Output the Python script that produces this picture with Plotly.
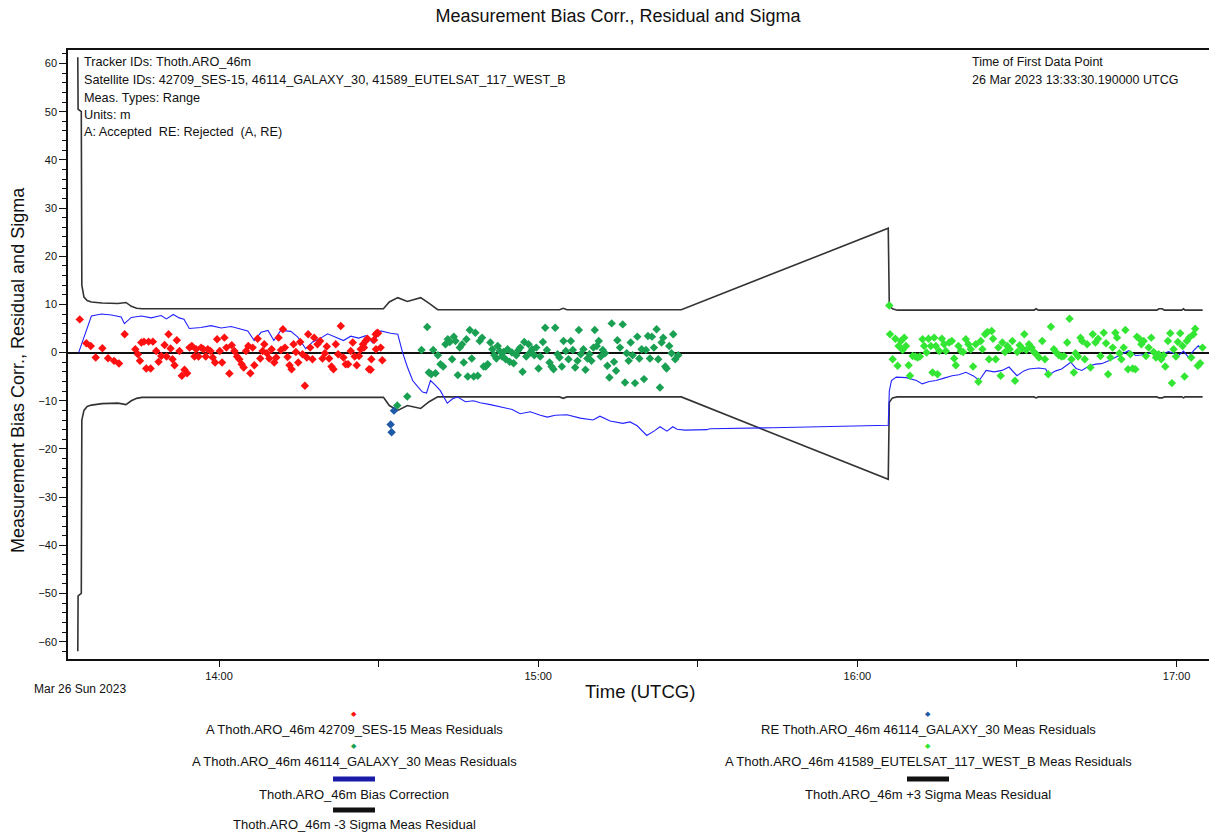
import plotly.graph_objects as go
import pandas as pd

BASE = pd.Timestamp("2023-03-26 13:00:00")

# ---------------- data (time in minutes after 13:00 UTCG, values in m) ----------------
red_t = [33.81, 35.06, 35.88, 36.81, 38.06, 39.13, 40.25, 41.19, 42.25, 44.25, 44.75, 45.13, 45.38, 45.88,
         46.31, 46.75, 47.13, 47.56, 48.19, 48.63, 49.13, 49.75, 50.13, 50.5, 50.88, 51.25, 51.63, 52.06,
         52.56, 53.0, 53.5, 54.0, 54.44, 54.88, 55.38, 55.69, 56.13, 56.63, 57.06, 57.5, 57.88, 58.38,
         58.81, 59.25, 59.63, 60.13, 60.56, 61.0, 61.38, 61.94, 62.38, 62.88, 63.38, 63.81, 64.25, 64.63,
         65.06, 65.5, 65.88, 66.31, 66.63, 67.25, 67.75, 68.19, 68.5, 69.0, 69.44, 69.88, 70.38, 70.75,
         71.19, 71.63, 72.0, 72.38, 72.88, 73.25, 73.63, 74.0, 74.44, 74.88, 75.25, 75.69, 76.13, 76.5,
         76.75, 77.13, 77.56, 77.88, 78.5, 79.0, 79.44, 79.88, 80.25, 80.69, 81.13, 81.5, 81.94, 82.38,
         82.88, 83.38, 83.81, 84.25, 84.75, 85.13, 85.5, 85.88, 86.31, 86.63, 87.06, 87.25, 87.56, 87.88,
         88.19, 88.5, 88.63, 89.13, 89.44, 89.5, 89.75, 89.88, 90.38, 90.69]
red_v = [6.89, 1.93, 1.38, -1.03, 0.90, -1.17, -1.72, -2.27, 3.79, 0.69, -0.34, -1.72, 2.07, 2.27,
         -3.31, 2.27, -3.31, 2.27, 0.34, -1.93, -0.69, 1.58, -0.83, 3.79, 0.83, -1.38, -2.62, 2.55,
         0.34, -4.82, -3.58, -4.27, 1.03, 1.38, -0.83, 0.69, -0.83, 1.03, 0.69, -0.83, 0.69, 0.34,
         -1.03, -2.07, 2.75, 0.34, -2.07, 3.10, 1.03, -4.34, 1.52, 0.34, -0.83, -1.38, -2.41, -3.10,
         0.34, 1.38, -4.27, 1.03, -2.62, 2.89, -1.24, 0.34, 1.72, -0.14, -1.24, 0.69, -2.07, -1.03,
         3.10, 0.55, 4.82, 1.03, -0.90, -2.62, -3.44, 1.72, 0.14, -2.07, 2.20, -0.34, -6.89, -1.03,
         3.79, 1.03, -1.38, 3.10, 1.72, 2.41, -1.24, -0.14, 1.24, -1.24, -2.89, -3.44, 1.72, -0.34,
         5.51, -1.03, -2.41, -2.41, 0.34, 2.07, -0.83, -2.62, -0.69, 0.69, 1.72, 1.03, 2.41, 2.89,
         -3.44, -3.58, -1.38, 2.62, 3.79, 0.69, 4.13, 3.99, 1.03, -1.58]

re_t = [92.25, 92.44, 92.88]
re_v = [-14.94, -16.53, -12.05]

gal_t = [93.5, 95.38, 98.06, 99.13, 99.44, 99.88, 100.25, 100.69, 101.13, 101.63, 102.13, 102.56, 103.0,
         103.38, 103.81, 104.13, 104.44, 104.88, 105.25, 105.69, 106.0, 106.5, 106.75, 107.13, 107.5,
         107.88, 108.19, 108.63, 109.0, 109.44, 109.75, 110.13, 110.5, 111.0, 111.38, 111.75, 112.13,
         112.38, 112.75, 113.19, 113.5, 113.88, 114.25, 114.63, 115.06, 115.38, 115.88, 116.25, 116.63,
         117.06, 117.38, 117.75, 118.19, 118.5, 118.88, 119.25, 119.63, 120.06, 120.38, 120.88, 121.31,
         121.63, 122.13, 122.5, 122.88, 123.19, 123.63, 124.0, 124.44, 124.75, 125.19, 125.69, 126.13,
         126.5, 126.94, 127.38, 127.63, 128.0, 128.5, 128.88, 129.25, 129.63, 130.0, 130.38, 130.63,
         131.0, 131.38, 131.75, 132.13, 132.56, 133.0, 133.38, 133.81, 134.25, 134.63, 134.88, 135.38,
         135.88, 136.31, 136.63, 137.0, 137.38, 137.75, 138.19, 138.63, 139.0, 139.44, 139.88, 140.25,
         140.63, 141.0, 141.38, 141.75, 142.25, 142.56, 142.88, 143.19, 143.5, 143.88, 144.13, 144.63,
         145.06, 145.38, 145.75, 146.31]
gal_v = [-11.0, -9.1, 0.55, 5.3, -4.13, -4.48, 0.55, -4.27, -0.55, -2.41, -2.89, 1.72, 2.75,
         2.2, -1.38, 3.31, 2.41, -4.68, 1.03, 1.72, -2.07, 2.75, -4.96, 4.68, -1.24,
         -4.96, 4.13, -4.82, 2.41, 3.10, -2.89, -2.89, -2.41, 2.07, 0.69, -0.55, -1.24,
         1.38, 0.34, -0.83, 0.14, -1.38, 0.69, -1.93, 0.0, -2.20, -0.55, 0.48, 1.03,
         -3.99, 2.2, -0.83, 1.72, 0.0, 0.69, -0.55, 1.03, -3.31, -0.83, 2.2, 5.17,
         0.55, -2.07, -2.89, -3.44, 5.17, -0.34, -1.03, -2.89, 2.41, 0.34, -1.38, 2.41,
         0.55, -3.10, -1.72, 4.68, -0.34, 0.69, -3.58, -1.24, -0.34, -1.72, 1.03, 4.68,
         1.38, 2.41, -0.83, 0.55, -0.14, -2.75, -5.17, 6.06, -1.93, -3.79, 2.55, 1.03,
         5.85, -6.2, -0.14, -1.72, 2.07, -0.55, -6.34, 3.31, -1.24, 0.69, -5.51, 0.55,
         3.44, -1.24, 3.31, 1.03, 4.82, -1.38, -7.23, 2.07, 3.10, -2.89, -3.31, 1.38,
         -0.14, 3.79, -1.38, -0.55]

eut_t = [186.0, 186.13, 186.63, 187.13, 187.56, 187.75, 188.19, 188.5, 188.81, 189.13, 189.63, 189.88,
         190.38, 190.88, 191.31, 191.75, 192.25, 192.56, 193.0, 193.38, 193.81, 194.13, 194.44, 194.75,
         195.06, 195.38, 195.88, 196.31, 196.63, 197.25, 197.75, 198.19, 198.5, 199.0, 199.44, 199.88,
         200.38, 200.88, 201.31, 201.75, 202.25, 202.75, 203.19, 203.5, 204.0, 204.44, 204.75, 205.25,
         205.5, 206.0, 206.5, 206.94, 207.25, 207.75, 208.19, 208.63, 209.13, 209.63, 210.06, 210.5,
         211.0, 211.38, 211.75, 212.25, 212.75, 213.19, 213.63, 214.13, 214.75, 215.25, 215.88, 216.38,
         216.94, 217.38, 217.88, 218.38, 218.81, 219.44, 219.88, 220.25, 220.69, 221.0, 221.5, 221.94,
         222.25, 222.75, 223.19, 223.81, 224.25, 224.75, 225.25, 225.69, 226.31, 226.75, 227.13, 227.56,
         228.0, 228.5, 228.81, 229.25, 229.63, 230.06, 230.38, 230.88, 231.31, 231.75, 232.25, 232.56,
         233.0, 233.38, 233.81, 234.25, 234.75, 235.25, 235.69, 236.13, 236.63, 237.13, 237.56, 237.88,
         238.38, 238.81, 239.13, 239.44, 239.88, 240.25, 240.69, 241.13, 241.5, 241.94, 242.38, 242.75,
         243.19, 243.5, 244.0, 244.44, 244.88]
eut_v = [9.78, 3.79, -1.38, 2.89, -2.75, 1.38, 2.41, 0.55, 3.10, 1.38, -2.62, -4.82,
         -0.69, -0.83, -1.03, -0.83, 2.75, 1.38, 0.0, 2.89, 1.38, -4.13, 3.10, 1.38,
         -4.48, 0.34, 2.89, 1.72, 0.34, 2.07, 2.41, -1.24, -2.62, 1.38, 0.34, 0.14,
         2.75, 1.72, 0.69, -2.89, 1.72, -6.06, 2.41, 0.69, 3.79, 4.27, -1.38, 4.48,
         2.89, -1.38, 1.03, -4.82, 2.07, 0.14, 1.38, 0.69, 2.41, -5.85, 0.14, 1.52,
         0.83, 3.79, 0.55, 1.72, 1.03, 0.14, -0.34, -1.03, 2.41, -1.38, -4.48, 5.37,
         0.69, 0.0, -0.55, -0.83, -0.69, 2.07, 7.02, -1.38, -4.13, -0.14, -0.83, 3.10,
         2.41, -1.38, 1.72, -3.10, 3.79, 2.07, 2.89, -0.69, 4.13, 1.93, -4.48, -1.03,
         1.03, 4.13, 3.10, -0.14, -1.38, 1.03, 4.68, -3.44, -0.34, -3.31, -3.44, 3.31,
         2.89, 1.72, 2.41, -0.69, 1.03, 3.10, 0.14, -1.03, -0.34, -1.38, -0.55, -2.89,
         2.41, 3.99, -6.34, 0.69, -0.83, 2.20, 3.99, 1.38, -4.96, 2.41, 3.10, -1.03,
         3.79, 4.96, -2.75, -2.20, 1.03]

bias_t = [33.6, 36.0, 37.9, 39.75, 41.6, 42.2, 43.5, 45.4, 47.25, 49.1, 50.1, 51.4, 52.5, 53.4, 54.4,
          56.6, 58.5, 60.4, 62.25, 64.1, 65.4, 66.6, 67.9, 69.2, 70.3, 71.6, 73.5, 74.8, 76.3, 77.6,
          79.1, 80.4, 81.9, 83.4, 84.75, 86.25, 87.6, 88.9, 90.4, 92.25, 93.6, 94.5, 95.4, 96.4, 97.3,
          98.25, 99.0, 99.75, 100.7, 101.6, 102.9, 103.9, 104.8, 106.3, 107.8, 109.1, 111.0, 113.4,
          115.1, 116.6, 118.5, 120.4, 121.7, 123.2, 125.4, 127.9, 130.3, 131.6, 133.5, 135.9, 137.25,
          138.6, 140.4, 141.9, 142.9, 144.2, 145.3, 146.1, 147.6, 151.7, 152.25, 164.1, 176.6, 185.8,
          186.0, 186.4, 187.3, 189.2, 191.1, 192.2, 193.5, 194.8, 196.3, 197.8, 199.1, 200.4, 201.9,
          202.9, 204.2, 205.7, 207.2, 208.5, 210.0, 211.3, 212.25, 214.1, 215.4, 216.0, 217.3, 218.4,
          220.1, 221.1, 222.2, 223.5, 224.8, 225.9, 227.25, 228.2, 229.1, 230.1, 231.0, 232.3, 233.4,
          235.3, 236.6, 237.6, 238.5, 240.4, 241.3, 242.25, 243.2, 244.1, 244.7]
bias_v = [0.0, 7.6, 8.0, 7.8, 7.4, 6.0, 7.3, 7.6, 7.2, 7.7, 7.0, 7.9, 7.2, 6.9, 5.0,
          5.2, 5.6, 5.1, 5.4, 4.8, 4.5, 2.5, 4.2, 4.6, 2.5, 4.6, 4.4, 3.2, 0.8, 2.2,
          3.0, 3.9, 3.2, 2.5, 3.4, 3.0, 3.5, 2.0, 4.5, 4.0, 3.8, 0.0, -3.0, -5.8, -7.0,
          -8.2, -8.4, -5.8, -6.8, -7.9, -10.5, -9.6, -9.2, -10.2, -10.0, -10.4, -10.8, -11.3,
          -11.8, -12.7, -12.3, -13.0, -13.4, -13.0, -12.9, -13.6, -14.0, -13.2, -14.2, -14.7, -14.4,
          -15.2, -17.2, -16.2, -15.4, -16.3, -15.4, -15.9, -16.1, -16.0, -15.8, -15.6, -15.4, -15.1,
          -8.0, -5.8, -5.1, -5.2, -5.8, -6.5, -6.0, -5.8, -5.3, -4.8, -4.6, -4.1, -4.9,
          -5.8, -3.7, -4.0, -3.7, -3.0, -4.8, -3.8, -3.4, -3.2, -3.4, -4.6, -3.8, -3.4,
          -2.0, -3.3, -3.7, -2.8, -2.4, -2.3, -1.7, -1.2, -0.6, -0.2, 0.4, -0.6, -0.5,
          0.0, -0.6, -0.2, 0.2, -0.6, 0.3, -1.0, 0.4, 1.4, 0.9]

sig_t = [33.44, 33.5, 34.1, 34.2, 34.6, 35.2, 36.0, 38.0, 41.0, 42.5, 43.5, 44.5, 45.5, 90.9, 92.0,
         93.6, 95.4, 97.9, 99.5, 101.1, 124.0, 124.7, 125.4, 146.9, 185.8, 186.0, 186.6, 187.5, 213.2,
         213.6, 214.0, 236.3, 236.7, 237.3, 237.7, 241.0, 241.3, 241.6, 244.9]
sig_up = [61.3, 50.5, 50.0, 14.0, 11.5, 10.8, 10.5, 10.3, 10.2, 10.4, 9.6, 9.2, 9.1, 9.1, 10.5,
          11.4, 10.6, 11.4, 10.2, 8.9, 8.9, 9.2, 8.9, 8.9, 25.8, 9.7, 9.1, 8.8, 8.8,
          9.1, 8.8, 8.8, 9.1, 9.1, 8.8, 8.8, 9.1, 8.8, 8.8]
sig_lo = [-62.0, -50.5, -50.0, -14.0, -12.0, -11.2, -10.9, -10.6, -10.5, -10.8, -10.0, -9.5, -9.3, -9.3, -11.0,
          -12.0, -11.0, -11.6, -10.2, -9.2, -9.2, -9.5, -9.2, -9.2, -26.3, -10.3, -9.4, -9.2, -9.2,
          -9.4, -9.2, -9.2, -9.4, -9.4, -9.2, -9.2, -9.4, -9.2, -9.2]

x_range_min = [31.6, 246.1]
y_ticks = list(range(-60, 61, 10))

title_text = "Measurement Bias Corr., Residual and Sigma"
legend_names = [
    "A Thoth.ARO_46m 42709_SES-15 Meas Residuals",
    "RE Thoth.ARO_46m 46114_GALAXY_30 Meas Residuals",
    "A Thoth.ARO_46m 46114_GALAXY_30 Meas Residuals",
    "A Thoth.ARO_46m 41589_EUTELSAT_117_WEST_B Meas Residuals",
    "Thoth.ARO_46m Bias Correction",
    "Thoth.ARO_46m +3 Sigma Meas Residual",
    "Thoth.ARO_46m -3 Sigma Meas Residual",
]
info_lines = [
    "Tracker IDs: Thoth.ARO_46m",
    "Satellite IDs: 42709_SES-15, 46114_GALAXY_30, 41589_EUTELSAT_117_WEST_B",
    "Meas. Types: Range",
    "Units: m",
    "A: Accepted  RE: Rejected  (A, RE)",
]
first_point_lines = ["Time of First Data Point", "26 Mar 2023 13:33:30.190000 UTCG"]


def tt(mins):
    return [BASE + pd.Timedelta(minutes=m) for m in mins]


# ---------------- styling ----------------
FONT = "Liberation Sans, Arial, sans-serif"
C_RED = "#ff1010"
C_RE = "#1f5aa6"
C_GAL = "#1aa052"
C_EUT = "#33e633"
C_BIAS = "#2222ff"
C_SIG = "#333333"

W, H = 1209, 834
PL, PR, PT, PB = 68, 1209, 50, 659


def pxx(X):
    return (X - PL) / (PR - PL)


def pxy(Y):
    return (PB - Y) / (PB - PT)


fig = go.Figure()
fig.add_trace(go.Scatter(x=tt(sig_t), y=sig_up, mode="lines", line=dict(color=C_SIG, width=1.6),
                         name=legend_names[5], hoverinfo="skip"))
fig.add_trace(go.Scatter(x=tt(sig_t), y=sig_lo, mode="lines", line=dict(color=C_SIG, width=1.6),
                         name=legend_names[6], hoverinfo="skip"))
fig.add_trace(go.Scatter(x=tt(bias_t), y=bias_v, mode="lines", line=dict(color=C_BIAS, width=1.1),
                         name=legend_names[4]))
mk = dict(symbol="diamond", size=6.5, line=dict(width=0))
fig.add_trace(go.Scatter(x=tt(red_t), y=red_v, mode="markers", marker=dict(color=C_RED, **mk),
                         name=legend_names[0]))
fig.add_trace(go.Scatter(x=tt(re_t), y=re_v, mode="markers", marker=dict(color=C_RE, **mk),
                         name=legend_names[1]))
fig.add_trace(go.Scatter(x=tt(gal_t), y=gal_v, mode="markers", marker=dict(color=C_GAL, **mk),
                         name=legend_names[2]))
fig.add_trace(go.Scatter(x=tt(eut_t), y=eut_v, mode="markers", marker=dict(color=C_EUT, **mk),
                         name=legend_names[3]))

annotations = []
# info block top-left
for line, Y in zip(info_lines, [62, 80, 98, 115, 132]):
    annotations.append(dict(text=line, x=pxx(82), y=pxy(Y), xref="paper", yref="paper",
                            xanchor="left", yanchor="middle", showarrow=False,
                            font=dict(size=12.7, color="#111", family=FONT)))
for line, Y in zip(first_point_lines, [62, 80]):
    annotations.append(dict(text=line, x=pxx(970), y=pxy(Y), xref="paper", yref="paper",
                            xanchor="left", yanchor="middle", showarrow=False,
                            font=dict(size=12.5, color="#111", family=FONT)))
# date label
annotations.append(dict(text="Mar 26 Sun 2023", x=pxx(32), y=pxy(689), xref="paper", yref="paper",
                        xanchor="left", yanchor="middle", showarrow=False,
                        font=dict(size=12, color="#111", family=FONT)))
# axis titles
annotations.append(dict(text="Time (UTCG)", x=pxx(640), y=pxy(691), xref="paper", yref="paper",
                        xanchor="center", yanchor="middle", showarrow=False,
                        font=dict(size=18.5, color="#111", family=FONT)))
annotations.append(dict(text=title_text, x=pxx(18), y=pxy(370), xref="paper", yref="paper",
                        xanchor="center", yanchor="middle", showarrow=False, textangle=-90,
                        font=dict(size=18, color="#111", family=FONT)))

# custom legend
leg_items = [
    # (name index, kind, color, center X, symbol Y, text Y)
    (0, "marker", C_RED, 354, 714, 729),
    (2, "marker", C_GAL, 354, 746, 762),
    (4, "bar", "#1a1aa8", 354, 779, 794),
    (6, "bar", "#111111", 354, 810, 824),
    (1, "marker", C_RE, 928, 714, 729),
    (3, "marker", C_EUT, 928, 746, 762),
    (5, "bar", "#111111", 928, 779, 794),
]
shapes = []
for idx, kind, col, X, Ys, Yt in leg_items:
    annotations.append(dict(text=legend_names[idx], x=pxx(X), y=pxy(Yt), xref="paper", yref="paper",
                            xanchor="center", yanchor="middle", showarrow=False,
                            font=dict(size=13, color="#111", family=FONT)))
    if kind == "marker":
        annotations.append(dict(text="◆", x=pxx(X), y=pxy(Ys), xref="paper", yref="paper",
                                xanchor="center", yanchor="middle", showarrow=False,
                                font=dict(size=7, color=col, family="DejaVu Sans")))
    else:
        shapes.append(dict(type="rect", xref="paper", yref="paper",
                           x0=pxx(X - 21), x1=pxx(X + 21), y0=pxy(Ys + 2.5), y1=pxy(Ys - 2.5),
                           fillcolor=col, line=dict(width=0)))

fig.update_layout(
    width=W, height=H,
    margin=dict(l=PL, r=W - PR, t=PT, b=H - PB),
    paper_bgcolor="white", plot_bgcolor="white",
    showlegend=False,
    font=dict(family=FONT, size=11, color="#111"),
    title=dict(text=title_text, x=618 / W, xref="container", xanchor="center",
               y=1 - 16 / H, yref="container", yanchor="middle",
               font=dict(size=18, family=FONT, color="#111")),
    annotations=annotations,
    shapes=shapes,
)
fig.update_xaxes(
    type="date", range=tt(x_range_min),
    tick0=BASE + pd.Timedelta(hours=1), dtick=3600000, tickformat="%H:%M",
    ticks="outside", ticklen=6, tickcolor="#111", tickwidth=1,
    minor=dict(dtick=1800000, ticks="outside", ticklen=6, tickcolor="#111"),
    showgrid=False, showline=True, linecolor="#111", linewidth=1.5, mirror=True,
    tickfont=dict(size=11, family=FONT, color="#111"), zeroline=False,
)
fig.update_yaxes(
    range=[-63.6, 62.8], tickvals=y_ticks,
    ticks="outside", ticklen=7, tickcolor="#111", tickwidth=1,
    minor=dict(dtick=2, ticks="outside", ticklen=4, tickcolor="#111"),
    showgrid=False, showline=True, linecolor="#111", linewidth=1.5, mirror=False,
    zeroline=True, zerolinecolor="#111", zerolinewidth=1.5,
    tickfont=dict(size=11, family=FONT, color="#111"),
)

fig.write_html("out.html")
